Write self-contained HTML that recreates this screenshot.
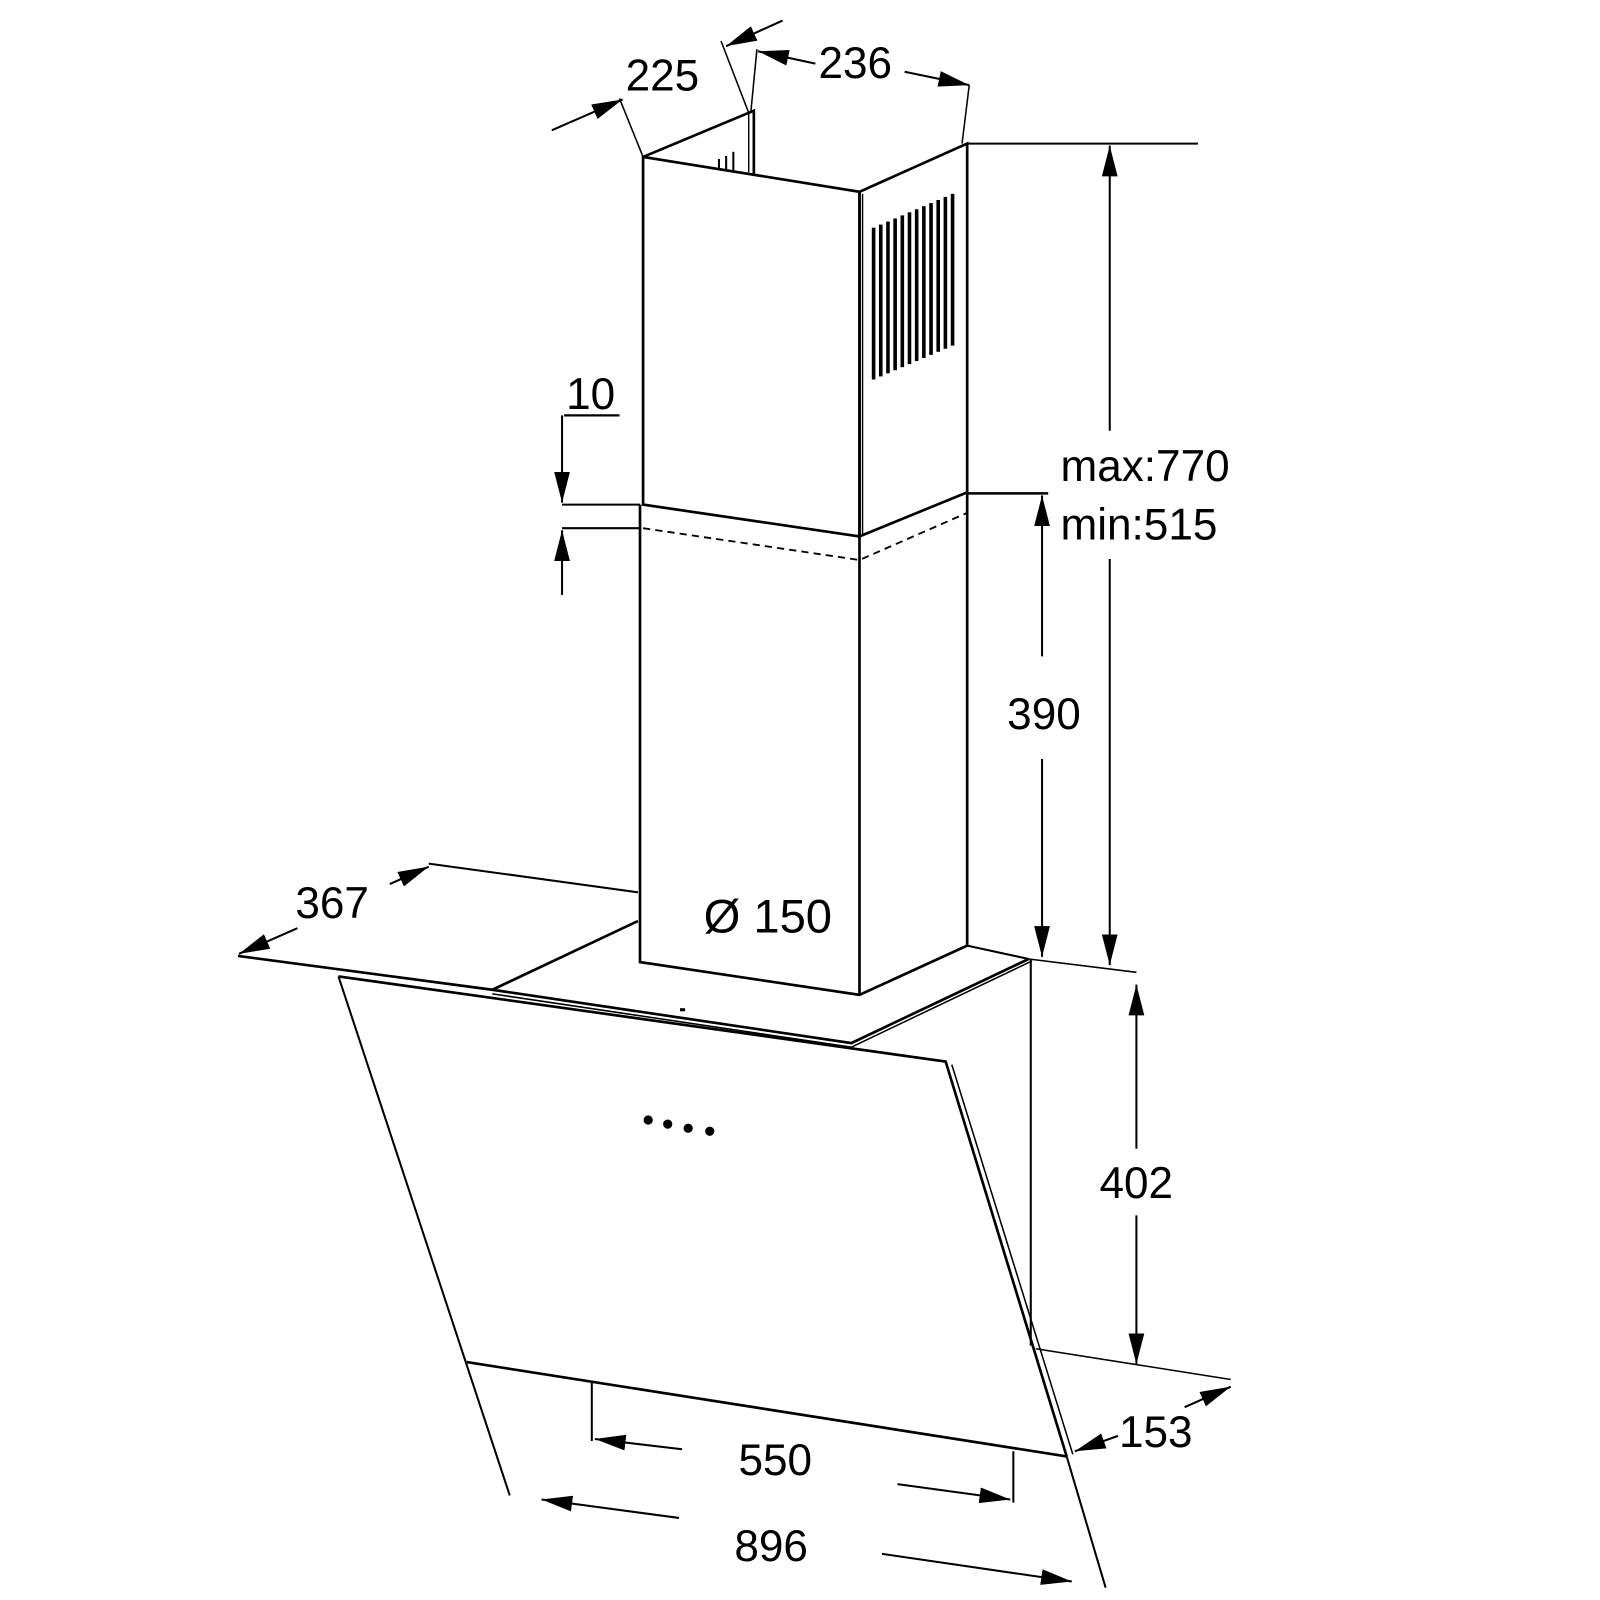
<!DOCTYPE html>
<html><head><meta charset="utf-8"><style>html,body{margin:0;padding:0;background:#fff}svg{display:block}</style></head>
<body>
<svg width="1600" height="1600" viewBox="0 0 1560 1560" xmlns="http://www.w3.org/2000/svg">
<defs>
<marker id="b" viewBox="0 0 10 10" refX="10" refY="5" markerWidth="30" markerHeight="22" markerUnits="userSpaceOnUse" orient="auto-start-reverse" preserveAspectRatio="none">
<path d="M0,1.5 L10,5 L0,8.5 z" fill="#000"/></marker>
</defs>
<g fill="none" stroke="#000" stroke-width="2.6">
<polygon points="627,153 838,187 838,523 627,492"/>
<polygon points="838,187 943,140 943,480 838,523"/>
<line x1="841" y1="189" x2="841" y2="521" stroke-width="1.4"/>
<polyline points="627,153 730,110 735,108 735,170"/>
<line x1="730" y1="110" x2="730" y2="168" stroke-width="1.4"/>
<polyline points="624,492 624,938 838,970 943,922 943,480"/>
<line x1="838" y1="523" x2="838" y2="970"/>
<polyline points="627,515 838,546 943,500" stroke-dasharray="7,5" stroke-width="1.8"/>
<line x1="548" y1="492" x2="624" y2="492" stroke-width="2"/>
<line x1="548" y1="515" x2="624" y2="515" stroke-width="2"/>
<line x1="548" y1="405" x2="548" y2="490" marker-end="url(#b)" stroke-width="2"/>
<line x1="548" y1="580" x2="548" y2="517" marker-end="url(#b)" stroke-width="2"/>
<line x1="550" y1="405" x2="604" y2="405" stroke-width="2.2"/>
<line x1="943" y1="140" x2="1168" y2="140" stroke-width="2"/>
<line x1="1082" y1="420" x2="1082" y2="142" marker-end="url(#b)" stroke-width="2"/>
<line x1="1082" y1="545" x2="1082" y2="941" marker-end="url(#b)" stroke-width="2"/>
<line x1="943" y1="481" x2="1022" y2="481" stroke-width="2.4"/>
<line x1="1016" y1="640" x2="1016" y2="483" marker-end="url(#b)" stroke-width="2"/>
<line x1="1016" y1="740" x2="1016" y2="933" marker-end="url(#b)" stroke-width="2"/>
<line x1="538" y1="127" x2="607" y2="97" marker-end="url(#b)" stroke-width="2"/>
<line x1="604" y1="96" x2="627" y2="153" stroke-width="1.5"/>
<line x1="763" y1="20" x2="708" y2="45" marker-end="url(#b)" stroke-width="2"/>
<line x1="703" y1="40" x2="730" y2="110" stroke-width="1.5"/>
<line x1="738" y1="48" x2="732" y2="110" stroke-width="1.5"/>
<line x1="795" y1="62" x2="739" y2="50" marker-end="url(#b)" stroke-width="2"/>
<line x1="882" y1="70" x2="945" y2="83" marker-end="url(#b)" stroke-width="2"/>
<line x1="945" y1="83" x2="938" y2="140" stroke-width="1.5"/>
<line x1="418" y1="842" x2="622" y2="870" stroke-width="2"/>
<line x1="622" y1="898" x2="480" y2="965"/>
<polyline points="232,932 480,965 830,1017 1003,935"/>
<polyline points="480,969 830,1021 1006,937" stroke-width="1.5"/>
<line x1="943" y1="922" x2="1003" y2="935" stroke-width="2"/>
<line x1="1003" y1="935" x2="1108" y2="948" stroke-width="1.5"/>
<line x1="1005" y1="935" x2="1005" y2="1312" stroke-width="2"/>
<polyline points="330,952 922,1035 1040,1420"/>
<line x1="928" y1="1038" x2="1046" y2="1418" stroke-width="1.5"/>
<line x1="330" y1="952" x2="497" y2="1458" stroke-width="2"/>
<line x1="455" y1="1328" x2="1040" y2="1420"/>
<line x1="1040" y1="1420" x2="1078" y2="1548" stroke-width="2"/>
<line x1="1010" y1="1315" x2="1200" y2="1345" stroke-width="1.5"/>
<line x1="380" y1="862" x2="418" y2="845" marker-end="url(#b)" stroke-width="2"/>
<line x1="290" y1="905" x2="233" y2="930" marker-end="url(#b)" stroke-width="2"/>
<line x1="1108" y1="1120" x2="1108" y2="960" marker-end="url(#b)" stroke-width="2"/>
<line x1="1108" y1="1185" x2="1108" y2="1330" marker-end="url(#b)" stroke-width="2"/>
<line x1="1155" y1="1372" x2="1200" y2="1352" marker-end="url(#b)" stroke-width="2"/>
<line x1="1090" y1="1400" x2="1048" y2="1415" marker-end="url(#b)" stroke-width="2"/>
<line x1="577" y1="1348" x2="577" y2="1405" stroke-width="2"/>
<line x1="988" y1="1415" x2="988" y2="1465" stroke-width="2"/>
<line x1="665" y1="1413" x2="580" y2="1403" marker-end="url(#b)" stroke-width="2"/>
<line x1="875" y1="1447" x2="985" y2="1462" marker-end="url(#b)" stroke-width="2"/>
<line x1="662" y1="1480" x2="528" y2="1462" marker-end="url(#b)" stroke-width="2"/>
<line x1="860" y1="1515" x2="1045" y2="1542" marker-end="url(#b)" stroke-width="2"/>
</g>
<g fill="#000">
<rect x="850" y="222" width="3.5" height="148"/><rect x="857" y="219" width="3.5" height="148"/>
<rect x="864" y="216" width="3.5" height="148"/><rect x="871" y="213" width="3.5" height="148"/>
<rect x="878" y="210" width="3.5" height="148"/><rect x="885" y="207" width="3.5" height="148"/>
<rect x="892" y="204" width="3.5" height="148"/><rect x="899" y="201" width="3.5" height="148"/>
<rect x="906" y="198" width="3.5" height="148"/><rect x="913" y="195" width="3.5" height="148"/>
<rect x="920" y="192" width="3.5" height="148"/><rect x="927" y="189" width="3.5" height="148"/>
<rect x="700" y="155" width="2" height="10"/><rect x="707" y="152" width="2" height="14"/><rect x="714" y="148" width="2" height="18"/>
<circle cx="632" cy="1092" r="4.5"/><circle cx="651" cy="1096" r="4.5"/><circle cx="671" cy="1100" r="4.5"/><circle cx="692" cy="1103" r="4.5"/>
<rect x="663" y="983" width="5" height="3"/>
</g>
<g font-family="'Liberation Sans', sans-serif" font-size="43" fill="#000">
<text x="610" y="88">225</text>
<text x="798" y="76">236</text>
<text x="552" y="399">10</text>
<text x="1034" y="469">max:770</text>
<text x="1034" y="526">min:515</text>
<text x="982" y="711">390</text>
<text x="288" y="895">367</text>
<text x="686" y="909" font-size="46">Ø 150</text>
<text x="1072" y="1168">402</text>
<text x="1091" y="1411">153</text>
<text x="720" y="1438">550</text>
<text x="716" y="1522">896</text>
</g>
</svg>
</body></html>
